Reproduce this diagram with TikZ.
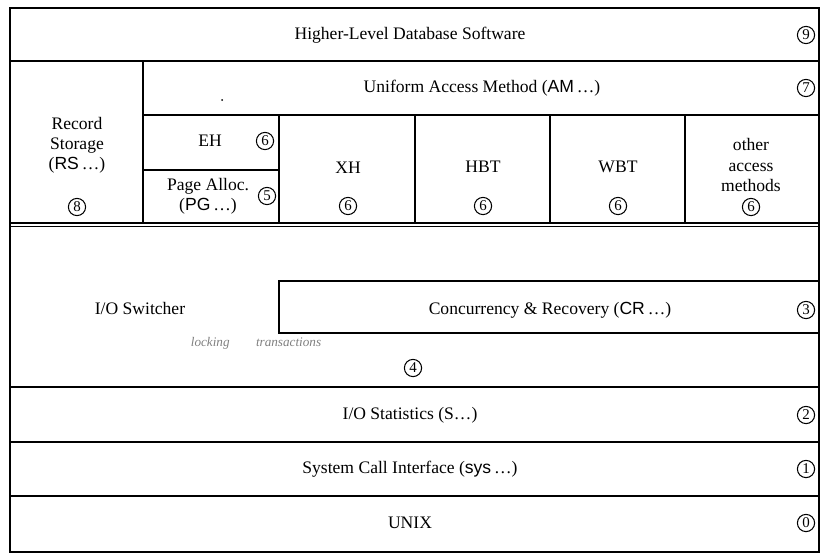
\documentclass[tikz,border=0pt]{standalone}
\usepackage{fontspec}
\setmainfont{Liberation Serif}
\newfontfamily\hv{Liberation Sans}
\usepackage{tikz}
\usepackage{color}

\begin{document}
\begin{tikzpicture}[x=0.02cm,y=-0.02cm]
	\tikzstyle{every node}+=[inner sep=0pt, font=\fontsize{10}{11.5}\selectfont]
	\tikzstyle{num}=[draw, circle, line width=0.6pt, minimum size=9.8pt, font=\fontsize{8.5}{9}\selectfont]
	\tikzstyle{frame}=[line width=1pt]
	\useasboundingbox (0,0) rectangle (820,554);
	% layer boxes
	\draw [frame] (10,8) rectangle (819,552);
	\draw [frame] (10,61) -- (819,61);
	\draw [frame] (143,115) -- (819,115);
	\draw [frame] (143,61) -- (143,223);
	\draw [frame] (143,170) -- (279,170);
	\draw [frame] (279,115) -- (279,223);
	\draw [frame] (415,115) -- (415,223);
	\draw [frame] (550,115) -- (550,223);
	\draw [frame] (685,115) -- (685,223);
	\draw [frame] (10,223) -- (819,223);
	\draw [frame] (10,226.5) -- (819,226.5);
	\draw [frame] (279,281) rectangle (819,333);
	\draw [frame] (10,387) -- (819,387);
	\draw [frame] (10,442) -- (819,442);
	\draw [frame] (10,496) -- (819,496);
	% labels
	\node (hl) at (410,35) {Higher-Level Database Software};
	\node (n9) [num] at (806,35) {9};
	\fill (222,100) circle (1);
	\node (am) at (482,88) {Uniform Access Method ({\hv AM}\,\dots)};
	\node (n7) [num] at (806,88) {7};
	\node (rs) [align=center] at (77,145) {Record\\Storage\\({\hv RS}\,\dots)};
	\node (n8) [num] at (77,207) {8};
	\node (eh) at (210,141) {EH};
	\node (n6a) [num] at (265,141) {6};
	\node (pg) [align=center] at (208,196) {Page Alloc.\\({\hv PG}\,\dots)};
	\node (n5) [num] at (267,196) {5};
	\node (xh) at (348,168) {XH};
	\node (n6b) [num] at (348,206) {6};
	\node (hbt) at (483,167) {HBT};
	\node (n6c) [num] at (483,206) {6};
	\node (wbt) at (618,167) {WBT};
	\node (n6d) [num] at (618,206) {6};
	\node (oam) [align=center] at (751,165) {other\\access\\methods};
	\node (n6e) [num] at (751,207) {6};
	\node (sw) at (140,308) {I/O Switcher};
	\node (cr) at (550,310) {Concurrency \& Recovery ({\hv CR}\,\dots)};
	\node (n3) [num] at (806,310) {3};
	\node (lt) [gray, font=\fontsize{7.5}{8}\itshape] at (256,343) {locking\qquad transactions};
	\node (n4) [num] at (413,368) {4};
	\node (st) at (410,415) {I/O Statistics (S\dots)};
	\node (n2) [num] at (806,415) {2};
	\node (sys) at (410,469) {System Call Interface ({\hv sys}\,\dots)};
	\node (n1) [num] at (806,469) {1};
	\node (ux) at (410,523) {UNIX};
	\node (n0) [num] at (806,523) {0};
\end{tikzpicture}
\end{document}
